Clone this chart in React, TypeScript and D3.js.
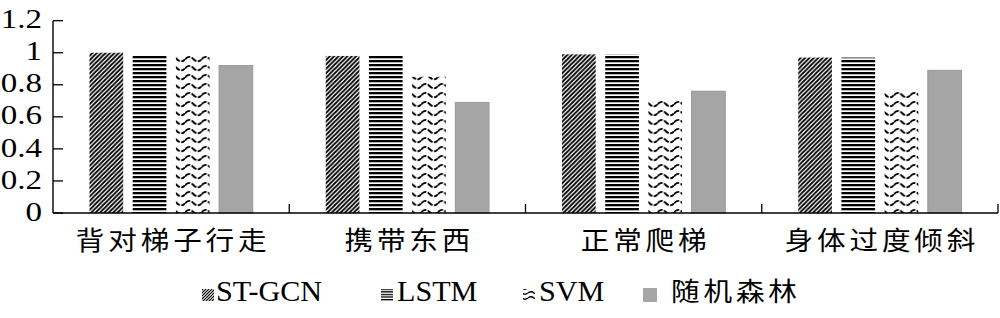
import React from 'react';
import * as d3 from 'd3';

const categories = ['背对梯子行走', '携带东西', '正常爬梯', '身体过度倾斜'];
const seriesNames = ['ST-GCN', 'LSTM', 'SVM', '随机森林'];
const stgcn = [1.0, 0.98, 0.99, 0.97];
const lstm = [0.98, 0.98, 0.99, 0.97];
const svm = [0.99, 0.85, 0.71, 0.77];
const rf = [0.92, 0.69, 0.76, 0.89];
const yTicks = [0, 0.2, 0.4, 0.6, 0.8, 1, 1.2];
const yTickLabels = ['0', '0.2', '0.4', '0.6', '0.8', '1', '1.2'];

const seriesValues = [stgcn, lstm, svm, rf];
const fills = ['url(#pDiag)', 'url(#pHoriz)', 'url(#pWave)', '#a5a5a5'];
const legendFills = ['url(#lDiag)', 'url(#lHoriz)', 'url(#lWave)', '#a5a5a5'];

const W = 1000;
const H = 318;
const left = 53;
const right = 998;
const top = 20.7;
const bottom = 213;

const serif = '"Liberation Serif", "Times New Roman", serif';
const cjk = '"Noto Sans CJK SC", "Noto Sans", sans-serif';

export default function App() {
  const y = d3.scaleLinear().domain([0, 1.2]).range([bottom, top]);
  const x0 = d3.scaleBand<string>().domain(categories).range([left, right]).padding(0);
  const x1 = d3
    .scaleBand<string>()
    .domain(seriesNames)
    .range([0, x0.bandwidth()])
    .paddingInner(0.22)
    .paddingOuter(0.845);

  const legendItems = [
    { sx: 202, tx: 216, cjk: false },
    { sx: 381, tx: 397, cjk: false },
    { sx: 523, tx: 539, cjk: false },
    { sx: 643, tx: 671, cjk: true },
  ];

  return (
    <svg
      width={W}
      height={H}
      style={{ position: 'absolute', left: 0, top: 0, background: '#fff' }}
    >
      <defs>
        <pattern id="pDiag" patternUnits="userSpaceOnUse" width="4.4" height="4.4">
          <rect width="4.4" height="4.4" fill="#fff" />
          <path d="M-1.1,1.1 L1.1,-1.1 M0,4.4 L4.4,0 M3.3,5.5 L5.5,3.3" stroke="#000" strokeWidth="1.8" />
        </pattern>
        <pattern id="pHoriz" patternUnits="userSpaceOnUse" width="8" height="4">
          <rect width="8" height="4" fill="#fff" />
          <rect y="0" width="8" height="2.3" fill="#000" />
        </pattern>
        <pattern id="pWave" patternUnits="userSpaceOnUse" width="16.5" height="9">
          <rect width="16.5" height="9" fill="#fff" />
          <path d="M0,5.5 Q4.1,0.5 8.25,5 T16.5,5.5" stroke="#000" strokeWidth="1.9" fill="none" strokeDasharray="6 1.5" />
        </pattern>
        <pattern id="lDiag" patternUnits="userSpaceOnUse" width="3" height="3">
          <rect width="3" height="3" fill="#fff" />
          <path d="M-0.75,0.75 L0.75,-0.75 M0,3 L3,0 M2.25,3.75 L3.75,2.25" stroke="#000" strokeWidth="1.2" />
        </pattern>
        <pattern id="lHoriz" patternUnits="userSpaceOnUse" width="6" height="2.6">
          <rect width="6" height="2.6" fill="#fff" />
          <rect y="0" width="6" height="1.3" fill="#000" />
        </pattern>
        <pattern id="lWave" patternUnits="userSpaceOnUse" width="12" height="5">
          <rect width="12" height="5" fill="#fff" />
          <path d="M0,3 Q3,0.5 6,3 T12,3" stroke="#000" strokeWidth="1.3" fill="none" />
        </pattern>
      </defs>

      {/* bars */}
      {categories.map((c, ci) => (
        <g key={c} transform={`translate(${x0(c)},0)`}>
          {seriesNames.map((s, si) => {
            const v = seriesValues[si][ci];
            return (
              <rect
                key={s}
                x={x1(s)}
                y={y(v)}
                width={x1.bandwidth()}
                height={y(0) - y(v)}
                fill={fills[si]}
                stroke={si === 3 ? '#999' : 'none'}
                strokeWidth={si === 3 ? 1 : 0}
              />
            );
          })}
        </g>
      ))}

      {/* y axis */}
      <line x1={left} x2={left} y1={top} y2={bottom} stroke="#000" strokeWidth={1.4} />
      {yTicks.map((t, i) => (
        <g key={t}>
          <line x1={left} x2={left + 10} y1={y(t)} y2={y(t)} stroke="#000" strokeWidth={1.3} />
          <text
            transform={`translate(42,${y(t) + 7.6}) scale(1.18,1)`}
            textAnchor="end"
            fontFamily={serif}
            fontSize={28}
            fill="#000"
          >
            {yTickLabels[i]}
          </text>
        </g>
      ))}

      {/* x axis */}
      <line x1={left} x2={right} y1={bottom} y2={bottom} stroke="#000" strokeWidth={1.4} />
      {categories.map((c) => (
        <line
          key={c}
          x1={(x0(c) as number) + x0.bandwidth()}
          x2={(x0(c) as number) + x0.bandwidth()}
          y1={bottom}
          y2={bottom - 9}
          stroke="#000"
          strokeWidth={1.3}
        />
      ))}
      {categories.map((c) => (
        <text
          key={c}
          transform={`translate(${(x0(c) as number) + x0.bandwidth() / 2 + 2},250) scale(1.1,1)`}
          textAnchor="middle"
          fontFamily={cjk}
          fontSize={26}
          letterSpacing={3.5}
          fill="#000"
        >
          {c}
        </text>
      ))}

      {/* legend */}
      {seriesNames.map((s, i) => {
        const it = legendItems[i];
        const sz = i === 3 ? 14 : 12;
        return (
          <g key={s}>
            <rect x={it.sx} y={i === 3 ? 288 : 289} width={sz} height={sz} fill={legendFills[i]} />
            <text
              transform={`translate(${it.tx},301) scale(${it.cjk ? 1.1 : 1.04},1)`}
              fontFamily={it.cjk ? cjk : serif}
              fontSize={it.cjk ? 26 : 29}
              letterSpacing={it.cjk ? 3.5 : 0}
              fill="#000"
            >
              {s}
            </text>
          </g>
        );
      })}
    </svg>
  );
}
